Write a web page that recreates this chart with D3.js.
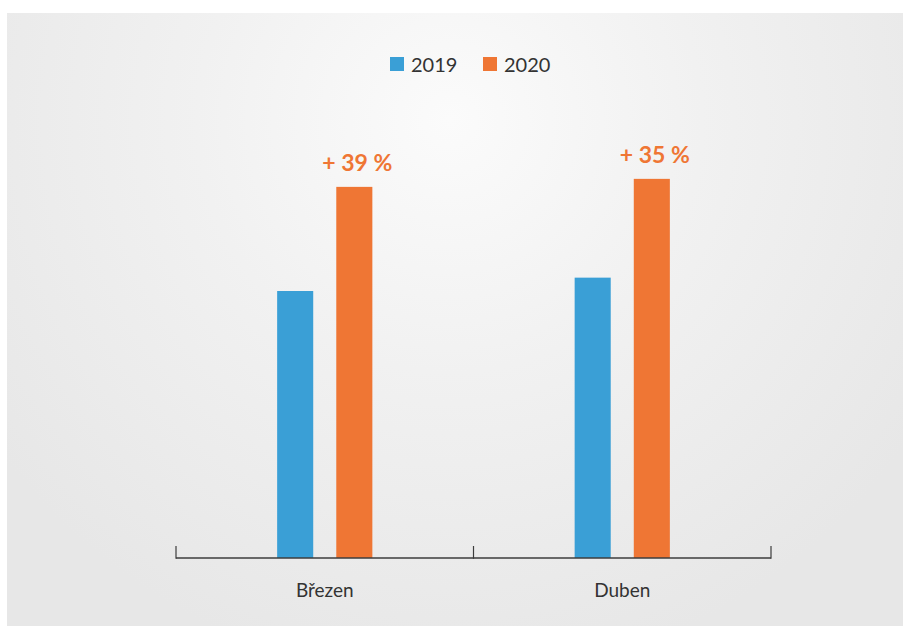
<!DOCTYPE html>
<html>
<head>
<meta charset="utf-8">
<script src="https://cdn.jsdelivr.net/npm/d3@7"></script>
<style>
  html, body { margin: 0; padding: 0; background: #ffffff; }
  svg { display: block; }
</style>
</head>
<body>
<svg id="chart" width="903" height="626"></svg>
<script>
// Months and yearly series
const categories = ["Březen", "Duben"];
const seriesNames = ["2019", "2020"];
const values2019 = [100, 105];
const values2020 = [139, 142];
const seriesColors = ["#3a9fd6", "#ef7634"];

const W = 903, H = 626;
const svg = d3.select("#chart");

// soft grey panel with a lighter glow near the top
const defs = svg.append("defs");
const grad = defs.append("radialGradient")
  .attr("id", "panelGlow")
  .attr("gradientUnits", "userSpaceOnUse")
  .attr("cx", 450).attr("cy", 120).attr("r", 560);
grad.append("stop").attr("offset", "0%").attr("stop-color", "#fbfbfb");
grad.append("stop").attr("offset", "45%").attr("stop-color", "#f1f1f1");
grad.append("stop").attr("offset", "100%").attr("stop-color", "#e7e7e7");

svg.append("rect")
  .attr("x", 7).attr("y", 13)
  .attr("width", W - 7).attr("height", H - 13)
  .attr("fill", "url(#panelGlow)");

const baseY = 558;
const x0 = d3.scaleBand().domain(categories).range([176, 771]).padding(0);
const bw = x0.bandwidth();
const x1 = d3.scaleBand().domain(seriesNames)
  .range([bw * 0.34, bw * 0.66]).paddingInner(0.39).paddingOuter(0);
const y = d3.scaleLinear().domain([0, 160]).range([baseY, baseY - 160 * 2.67]);

const rows = categories.map((c, i) => ({
  cat: c,
  vals: [values2019[i], values2020[i]]
}));

// bars
const groups = svg.append("g").selectAll("g")
  .data(rows).join("g")
  .attr("transform", d => `translate(${x0(d.cat)},0)`);

groups.selectAll("rect")
  .data(d => d.vals.map((v, j) => ({ key: seriesNames[j], v, j })))
  .join("rect")
  .attr("x", d => x1(d.key))
  .attr("y", d => y(d.v))
  .attr("width", x1.bandwidth())
  .attr("height", d => baseY - y(d.v))
  .attr("fill", d => seriesColors[d.j]);

// growth labels above the 2020 bars
groups.append("text")
  .attr("x", x1("2020") + x1.bandwidth() / 2 + 3)
  .attr("y", d => y(d.vals[1]) - 16)
  .attr("text-anchor", "middle")
  .attr("font-family", "Lato, 'Open Sans', sans-serif")
  .attr("font-weight", "bold")
  .attr("font-size", 23)
  .attr("fill", "#ef7634")
  .text(d => "+ " + Math.round((d.vals[1] / d.vals[0] - 1) * 100) + " %");

// axis along the bottom with upward ticks at the band edges
const axis = d3.axisBottom(x0).tickSize(0).tickPadding(0).tickFormat("");
const axG = svg.append("g").attr("transform", `translate(0,${baseY})`).call(axis);
axG.select(".domain").remove();
axG.selectAll(".tick").remove();
axG.append("line")
  .attr("x1", 176).attr("x2", 771)
  .attr("stroke", "#3c3c3c").attr("stroke-width", 1.5);
const edges = categories.map(c => x0(c)).concat([x0(categories[categories.length - 1]) + bw]);
axG.selectAll("line.edge").data(edges).join("line")
  .attr("class", "edge")
  .attr("x1", d => d).attr("x2", d => d)
  .attr("y1", 0.75).attr("y2", -12)
  .attr("stroke", "#3c3c3c").attr("stroke-width", 1.2);

// month labels
svg.append("g").selectAll("text")
  .data(categories).join("text")
  .attr("x", d => x0(d) + bw / 2)
  .attr("y", 597)
  .attr("text-anchor", "middle")
  .attr("font-family", "Lato, 'Open Sans', sans-serif")
  .attr("font-size", 19)
  .attr("fill", "#333333")
  .text(d => d);

// legend
const legend = svg.append("g");
const legendX = [390, 483];
seriesNames.forEach((name, i) => {
  legend.append("rect")
    .attr("x", legendX[i]).attr("y", 57)
    .attr("width", 14).attr("height", 14)
    .attr("fill", seriesColors[i]);
  legend.append("text")
    .attr("x", legendX[i] + 21).attr("y", 71.5)
    .attr("font-family", "Lato, 'Open Sans', sans-serif")
    .attr("font-size", 20)
    .attr("fill", "#333333")
    .text(name);
});
</script>
</body>
</html>
